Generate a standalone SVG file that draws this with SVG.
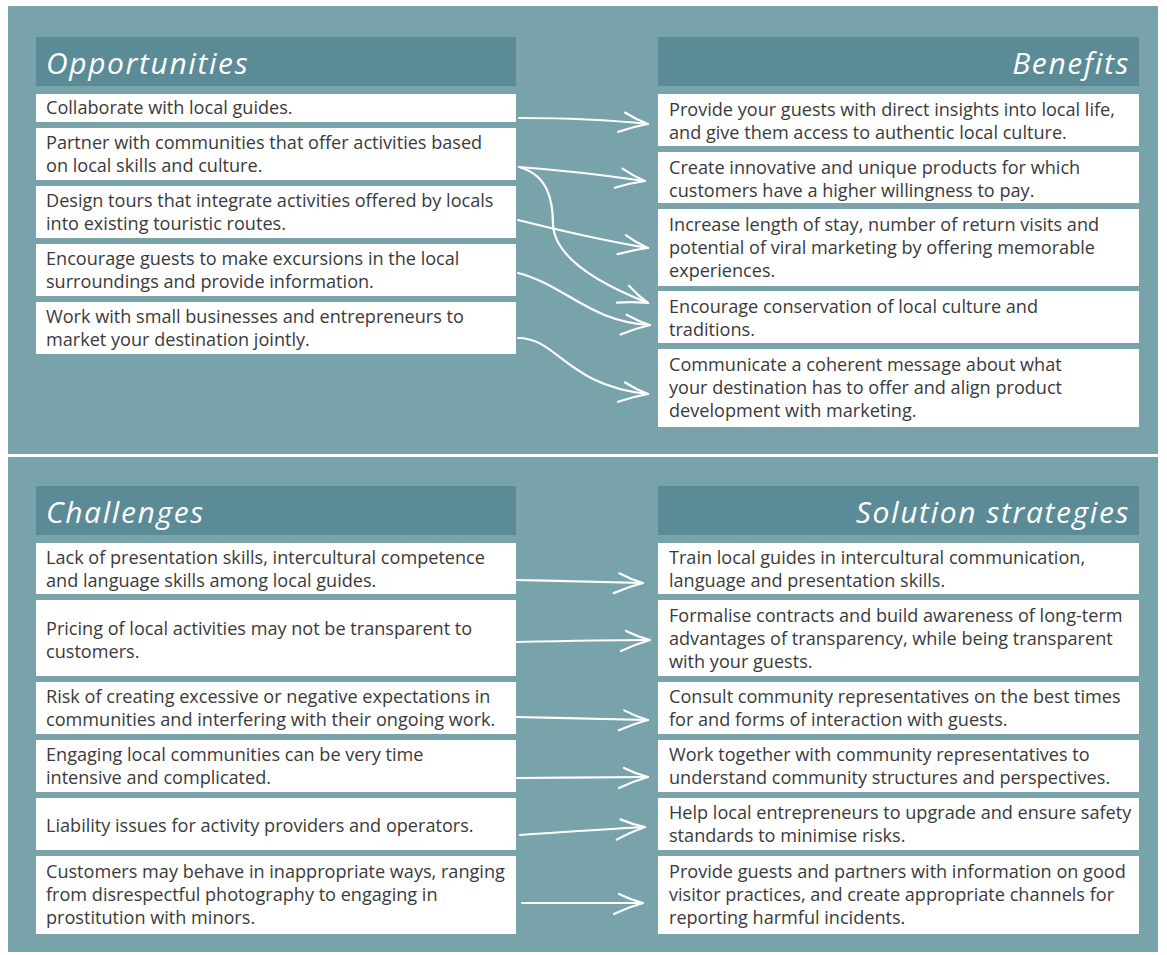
<svg xmlns="http://www.w3.org/2000/svg" width="1167" height="955" viewBox="0 0 1167 955">
<defs>
<style>
.bg{fill:#78a3ab}
.hd{fill:#5b8b96}
.bx{fill:#ffffff}
.t{font-family:"Open Sans","Liberation Sans",sans-serif;font-size:18.1px;fill:#3a3a3a}
.h{font-family:"Open Sans","Liberation Sans",sans-serif;font-size:30px;font-style:italic;letter-spacing:1.6px;fill:#ffffff}
.ar{fill:none;stroke:#ffffff;stroke-width:2.2;stroke-linecap:round;marker-end:url(#ah)}
</style>
<marker id="ah" markerUnits="userSpaceOnUse" viewBox="-34 -16 40 32" markerWidth="40" markerHeight="32" refX="0" refY="0" orient="auto">
<path d="M-24,-9 Q-12,-3 0,0 Q-14,4 -29,11" fill="none" stroke="#ffffff" stroke-width="2.2" stroke-linecap="round" stroke-linejoin="round"/>
</marker>
</defs>
<rect class="bg" x="8" y="6" width="1150" height="946"/>
<rect x="8" y="454" width="1150" height="3" fill="#ffffff"/>

<g id="opportunities">
<rect class="hd" x="36" y="37" width="480" height="49"/>
<text class="h" x="46" y="74">Opportunities</text>
</g>
<g id="opp1"><rect class="bx" x="36" y="94" width="480" height="28"/><text class="t" x="46" y="114">Collaborate with local guides.</text></g>
<g id="opp2"><rect class="bx" x="36" y="128" width="480" height="52"/><text class="t" x="46" y="149">Partner with communities that offer activities based<tspan x="46" dy="23">on local skills and culture.</tspan></text></g>
<g id="opp3"><rect class="bx" x="36" y="186" width="480" height="52"/><text class="t" x="46" y="207">Design tours that integrate activities offered by locals<tspan x="46" dy="23">into existing touristic routes.</tspan></text></g>
<g id="opp4"><rect class="bx" x="36" y="244" width="480" height="52"/><text class="t" x="46" y="265">Encourage guests to make excursions in the local<tspan x="46" dy="23">surroundings and provide information.</tspan></text></g>
<g id="opp5"><rect class="bx" x="36" y="302" width="480" height="52"/><text class="t" x="46" y="323">Work with small businesses and entrepreneurs to<tspan x="46" dy="23">market your destination jointly.</tspan></text></g>

<g id="benefits">
<rect class="hd" x="658" y="37" width="481" height="49"/>
<text class="h" x="1130" y="74" text-anchor="end">Benefits</text>
</g>
<g id="ben1"><rect class="bx" x="658" y="94" width="481" height="52"/><text class="t" x="669" y="116">Provide your guests with direct insights into local life,<tspan x="669" dy="23">and give them access to authentic local culture.</tspan></text></g>
<g id="ben2"><rect class="bx" x="658" y="152" width="481" height="51"/><text class="t" x="669" y="174">Create innovative and unique products for which<tspan x="669" dy="23">customers have a higher willingness to pay.</tspan></text></g>
<g id="ben3"><rect class="bx" x="658" y="209" width="481" height="77"/><text class="t" x="669" y="231">Increase length of stay, number of return visits and<tspan x="669" dy="23">potential of viral marketing by offering memorable</tspan><tspan x="669" dy="23">experiences.</tspan></text></g>
<g id="ben4"><rect class="bx" x="658" y="291" width="481" height="52"/><text class="t" x="669" y="313">Encourage conservation of local culture and<tspan x="669" dy="23">traditions.</tspan></text></g>
<g id="ben5"><rect class="bx" x="658" y="349" width="481" height="78"/><text class="t" x="669" y="371">Communicate a coherent message about what<tspan x="669" dy="23">your destination has to offer and align product</tspan><tspan x="669" dy="23">development with marketing.</tspan></text></g>

<g id="challenges">
<rect class="hd" x="36" y="486" width="480" height="49"/>
<text class="h" x="46" y="523">Challenges</text>
</g>
<g id="ch1"><rect class="bx" x="36" y="543" width="480" height="51"/><text class="t" x="46" y="564">Lack of presentation skills, intercultural competence<tspan x="46" dy="23">and language skills among local guides.</tspan></text></g>
<g id="ch2"><rect class="bx" x="36" y="600" width="480" height="76"/><text class="t" x="46" y="635">Pricing of local activities may not be transparent to<tspan x="46" dy="23">customers.</tspan></text></g>
<g id="ch3"><rect class="bx" x="36" y="682" width="480" height="52"/><text class="t" x="46" y="703">Risk of creating excessive or negative expectations in<tspan x="46" dy="23">communities and interfering with their ongoing work.</tspan></text></g>
<g id="ch4"><rect class="bx" x="36" y="740" width="480" height="52"/><text class="t" x="46" y="761">Engaging local communities can be very time<tspan x="46" dy="23">intensive and complicated.</tspan></text></g>
<g id="ch5"><rect class="bx" x="36" y="798" width="480" height="52"/><text class="t" x="46" y="832">Liability issues for activity providers and operators.</text></g>
<g id="ch6"><rect class="bx" x="36" y="856" width="480" height="78"/><text class="t" x="46" y="878">Customers may behave in inappropriate ways, ranging<tspan x="46" dy="23">from disrespectful photography to engaging in</tspan><tspan x="46" dy="23">prostitution with minors.</tspan></text></g>

<g id="solutions">
<rect class="hd" x="658" y="486" width="481" height="49"/>
<text class="h" x="1130" y="523" text-anchor="end">Solution strategies</text>
</g>
<g id="so1"><rect class="bx" x="658" y="543" width="481" height="51"/><text class="t" x="669" y="564">Train local guides in intercultural communication,<tspan x="669" dy="23">language and presentation skills.</tspan></text></g>
<g id="so2"><rect class="bx" x="658" y="600" width="481" height="76"/><text class="t" x="669" y="622">Formalise contracts and build awareness of long-term<tspan x="669" dy="23">advantages of transparency, while being transparent</tspan><tspan x="669" dy="23">with your guests.</tspan></text></g>
<g id="so3"><rect class="bx" x="658" y="682" width="481" height="52"/><text class="t" x="669" y="703">Consult community representatives on the best times<tspan x="669" dy="23">for and forms of interaction with guests.</tspan></text></g>
<g id="so4"><rect class="bx" x="658" y="740" width="481" height="52"/><text class="t" x="669" y="761">Work together with community representatives to<tspan x="669" dy="23">understand community structures and perspectives.</tspan></text></g>
<g id="so5"><rect class="bx" x="658" y="798" width="481" height="52"/><text class="t" x="669" y="819">Help local entrepreneurs to upgrade and ensure safety<tspan x="669" dy="23">standards to minimise risks.</tspan></text></g>
<g id="so6"><rect class="bx" x="658" y="856" width="481" height="78"/><text class="t" x="669" y="878">Provide guests and partners with information on good<tspan x="669" dy="23">visitor practices, and create appropriate channels for</tspan><tspan x="669" dy="23">reporting harmful incidents.</tspan></text></g>

<g id="connectors">
<path class="ar" d="M519,118 C560,118 610,120 648,124"/>
<path class="ar" d="M519,167 C560,170 610,176 645,181"/>
<path class="ar" d="M519,167 C548,175 553,200 553,225 C555,262 610,288 648,303"/>
<path class="ar" d="M518,220 C550,228 600,240 648,248"/>
<path class="ar" d="M518,273 C565,285 590,322 650,325"/>
<path class="ar" d="M518,338 C558,338 565,385 648,394"/>
<path class="ar" d="M515,580 C560,581 610,582 643,583"/>
<path class="ar" d="M515,642 C560,641 610,640 650,640"/>
<path class="ar" d="M515,717 C560,718 610,719 648,720"/>
<path class="ar" d="M517,778 C560,778 610,777 648,777"/>
<path class="ar" d="M520,835 C560,832 610,829 645,827"/>
<path class="ar" d="M522,903 C560,903 610,903 643,903"/>
</g>
</svg>
